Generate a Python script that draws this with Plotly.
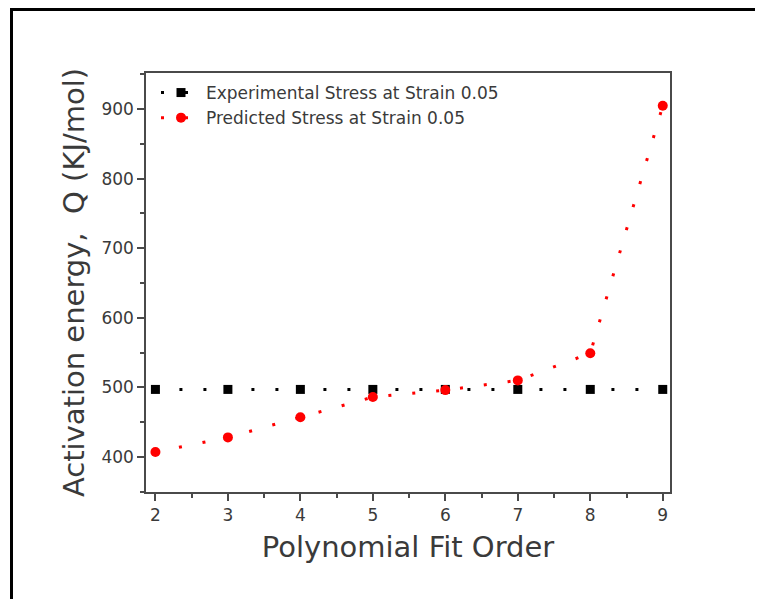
import plotly.graph_objects as go

fit_order = [2, 3, 4, 5, 6, 7, 8, 9]
experimental_q = [497, 497, 497, 497, 497, 497, 497, 497]
predicted_q = [407, 428, 457, 486, 496, 510, 549, 905]

x_tick_vals = [2, 3, 4, 5, 6, 7, 8, 9]
y_tick_vals = [400, 500, 600, 700, 800, 900]

FONT = "DejaVu Sans"
AXIS_COLOR = "#4a4a4a"
TEXT_COLOR = "#3a3a3a"

fig = go.Figure()
fig.add_trace(go.Scatter(
    x=fit_order, y=experimental_q, mode="lines+markers",
    name="Experimental Stress at Strain 0.05",
    line=dict(color="black", width=3, dash="3px,21px"),
    marker=dict(symbol="square", size=9, color="black"),
))
fig.add_trace(go.Scatter(
    x=fit_order, y=predicted_q, mode="lines+markers",
    name="Predicted Stress at Strain 0.05",
    line=dict(color="#ff0000", width=3, dash="3px,21px"),
    marker=dict(symbol="circle", size=10, color="#ff0000"),
))

# page body has an 8px margin; figure coordinates are screen minus 8
OFF = 8
W, H = 763 - OFF, 599 - OFF
L, R, T, B = 146 - OFF, 670 - OFF, 73 - OFF, 492 - OFF
pw, ph = R - L, B - T

fig.add_shape(type="rect", xref="paper", yref="paper",
              x0=(3.5 - L) / pw, x1=(W + 20 - L) / pw,
              y0=(B - (H + 20)) / ph, y1=(B - 1.5) / ph,
              line=dict(color="black", width=3), fillcolor="rgba(0,0,0,0)")

fig.update_layout(
    width=W, height=H,
    margin=dict(l=L, r=W - R, t=T, b=H - B),
    paper_bgcolor="white", plot_bgcolor="white",
    font=dict(family=FONT, color=TEXT_COLOR),
    showlegend=True,
    legend=dict(x=10 / pw, y=(B - 67) / ph, xanchor="left", yanchor="top",
                bgcolor="rgba(0,0,0,0)", font=dict(size=17, family=FONT, color=TEXT_COLOR),
                itemwidth=40),
    xaxis=dict(
        range=[1.87, 9.1], tickvals=x_tick_vals, ticktext=[str(v) for v in x_tick_vals],
        showgrid=False, zeroline=False,
        showline=True, linecolor=AXIS_COLOR, linewidth=1.5, mirror=True,
        ticks="outside", ticklen=7, tickwidth=1.5, tickcolor=AXIS_COLOR,
        minor=dict(dtick=0.5, tick0=2, ticks="outside", ticklen=4, tickwidth=1.5, tickcolor=AXIS_COLOR, showgrid=False),
        tickfont=dict(size=17, family=FONT, color=TEXT_COLOR),
        title=dict(text="Polynomial Fit Order", font=dict(size=29, family=FONT, color=TEXT_COLOR), standoff=13),
    ),
    yaxis=dict(
        range=[349.5, 952], tickvals=y_tick_vals, ticktext=[str(v) for v in y_tick_vals],
        showgrid=False, zeroline=False,
        showline=True, linecolor=AXIS_COLOR, linewidth=1.5, mirror=True,
        ticks="outside", ticklen=7, tickwidth=1.5, tickcolor=AXIS_COLOR,
        minor=dict(dtick=50, tick0=400, ticks="outside", ticklen=4, tickwidth=1.5, tickcolor=AXIS_COLOR, showgrid=False),
        tickfont=dict(size=17, family=FONT, color=TEXT_COLOR),
        title=dict(text="Activation energy,  Q (KJ/mol)", font=dict(size=29, family=FONT, color=TEXT_COLOR), standoff=8),
    ),
)

fig.write_html("out.html")
